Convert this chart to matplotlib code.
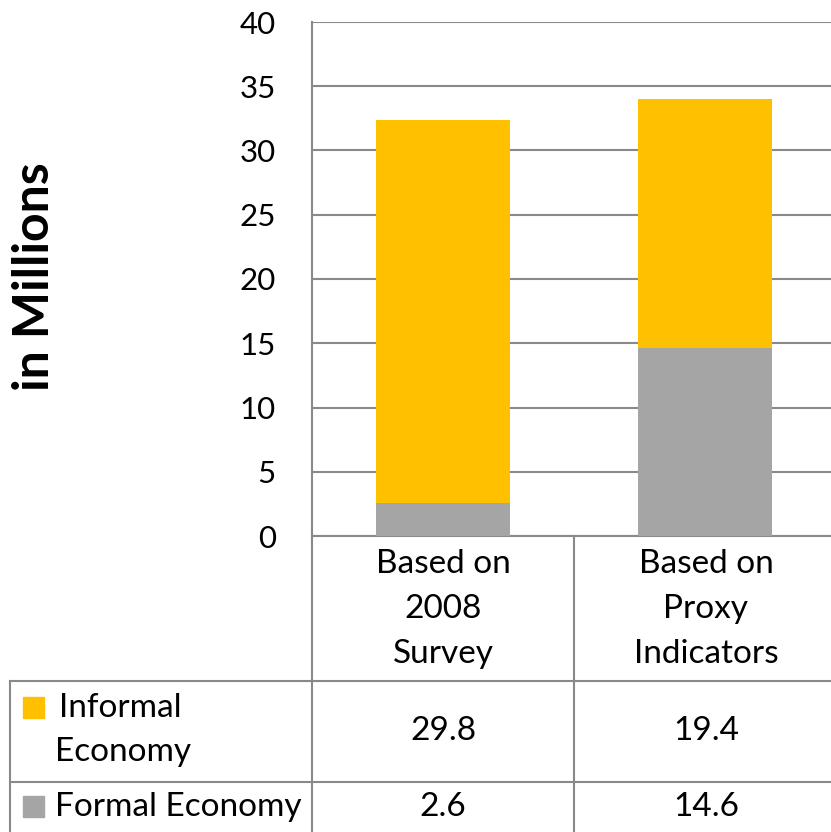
import matplotlib.pyplot as plt
from matplotlib.lines import Line2D
from matplotlib.patches import Rectangle

plt.rcParams['font.family'] = ['Lato', 'DejaVu Sans']

categories = ["Based on\n2008\nSurvey", "Based on\nProxy\nIndicators"]
formal = [2.6, 14.6]
informal = [29.8, 19.4]
series_names = ["Informal\nEconomy", "Formal Economy"]
yticks = [0, 5, 10, 15, 20, 25, 30, 35, 40]

yellow = '#FFC000'
grey = '#A5A5A5'
linec = '#898989'

W, H = 831, 832
fig = plt.figure(figsize=(W / 100, H / 100), dpi=100)

def fx(x):
    return x / W

def fy(y):
    return 1 - y / H

# plot area in pixel coords: x 312..836, y 22..536
ax = fig.add_axes([fx(312), fy(536), fx(836) - fx(312), fy(22) - fy(536)])
xs = list(range(len(categories)))
ax.bar(xs, formal, width=0.515, color=grey, zorder=3)
ax.bar(xs, informal, width=0.515, bottom=formal, color=yellow, zorder=3)
ax.set_xlim(-0.5, 1.5)
ax.set_ylim(0, 40)
ax.set_yticks(yticks)
ax.set_xticks([])
ax.yaxis.grid(True, color=linec, linewidth=1.5, zorder=0)
ax.tick_params(axis='y', length=0, labelsize=22.5, pad=26)
for s in ['top', 'right']:
    ax.spines[s].set_visible(False)
ax.spines['left'].set_color(linec)
ax.spines['left'].set_linewidth(1.5)
ax.spines['bottom'].set_color(linec)
ax.spines['bottom'].set_linewidth(1.5)

fig.text(fx(35), fy(277), "in Millions", rotation=90, fontsize=36,
         fontweight='bold', ha='center', va='center')

# data table lines
def hline(x0, x1, y):
    fig.add_artist(Line2D([fx(x0), fx(x1)], [fy(y), fy(y)], color=linec, lw=1.5))

def vline(x, y0, y1):
    fig.add_artist(Line2D([fx(x), fx(x)], [fy(y0), fy(y1)], color=linec, lw=1.5))

vline(312, 536, 681)
vline(574, 536, 832)
vline(312, 681, 832)
vline(10, 681, 832)
hline(10, 831, 681)
hline(10, 831, 782)

fs = 24
col_centers = [443, 706]
for cx, cat in zip(col_centers, categories):
    for i, line in enumerate(cat.split("\n")):
        fig.text(fx(cx), fy(564 + 45 * i), line, fontsize=fs,
                 ha='center', va='center')

# legend keys + row labels
fig.add_artist(Rectangle((fx(23), fy(718)), fx(21), 21 / H, color=yellow,
                         transform=fig.transFigure))
fig.add_artist(Rectangle((fx(23), fy(817)), fx(21), 21 / H, color=grey,
                         transform=fig.transFigure))
inf1, inf2 = series_names[0].split("\n")
fig.text(fx(59), fy(708), inf1, fontsize=fs, ha='left', va='center')
fig.text(fx(55), fy(752), inf2, fontsize=fs, ha='left', va='center')
fig.text(fx(55), fy(807), series_names[1], fontsize=fs, ha='left', va='center')

for cx, v in zip(col_centers, informal):
    fig.text(fx(cx), fy(731), f"{v:.1f}", fontsize=fs, ha='center', va='center')
for cx, v in zip(col_centers, formal):
    fig.text(fx(cx), fy(807), f"{v:.1f}", fontsize=fs, ha='center', va='center')

plt.savefig('out.png', dpi=100)
